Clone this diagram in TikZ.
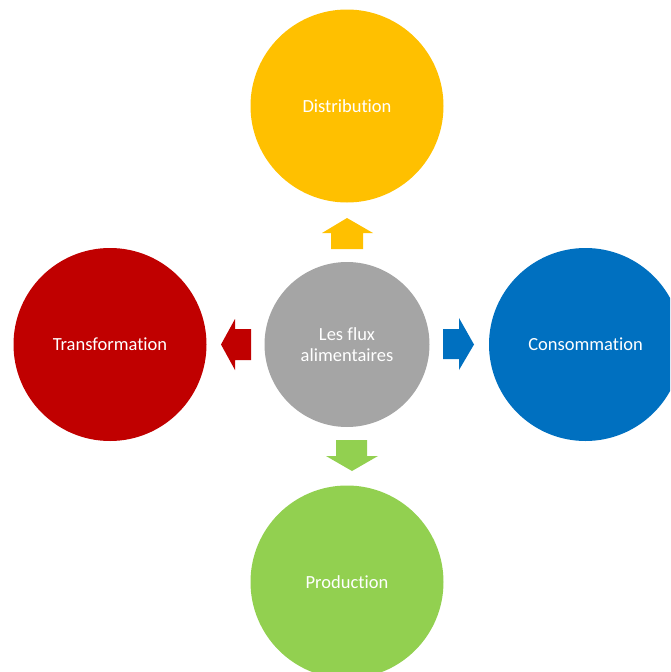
\documentclass[tikz,border=0pt]{standalone}
\usepackage{fontspec}
\setmainfont[Ligatures={NoCommon,NoRare,NoContextual}]{Carlito}
\definecolor{cdist}{HTML}{FFC000}
\definecolor{ctrans}{HTML}{C00000}
\definecolor{ccons}{HTML}{0070C0}
\definecolor{cprod}{HTML}{92D050}
\definecolor{ccent}{HTML}{A5A5A5}
\begin{document}
\begin{tikzpicture}[x=1pt,y=-1pt,
  bubble/.style={circle,draw=none,minimum size=193pt,inner sep=0pt,text=white,font=\fontsize{18.5}{21}\selectfont,align=center},
  hub/.style={bubble,minimum size=165pt}]
\useasboundingbox (0,0) rectangle (670,672);
\clip (0,0) rectangle (670,672);
\node[bubble,fill=cdist] (dist) at (347,106) {Distribution};
\node[bubble,fill=ctrans] (trans) at (110,344.5) {Transformation};
\node[bubble,fill=ccons] (cons) at (585.5,344.5) {Consommation};
\node[bubble,fill=cprod] (prod) at (347,582) {Production};
\node[hub,fill=ccent] (hub) at (347,344.5) {Les flux\\alimentaires};
% block arrows
\fill[cdist] (331,249) -- (331,233) -- (322,233) -- (347,218) -- (373,233) -- (363,233) -- (363,249) -- cycle;
\fill[ctrans] (251,329) -- (235,329) -- (235,319) -- (221,344.5) -- (235,370) -- (235,360) -- (251,360) -- cycle;
\fill[ccons] (443,329) -- (459,329) -- (459,318) -- (474,344.5) -- (459,370) -- (459,359) -- (443,359) -- cycle;
\fill[cprod] (336,440) -- (367,440) -- (367,456) -- (378,456) -- (352,471) -- (326,456) -- (336,456) -- cycle;
\end{tikzpicture}
\end{document}
